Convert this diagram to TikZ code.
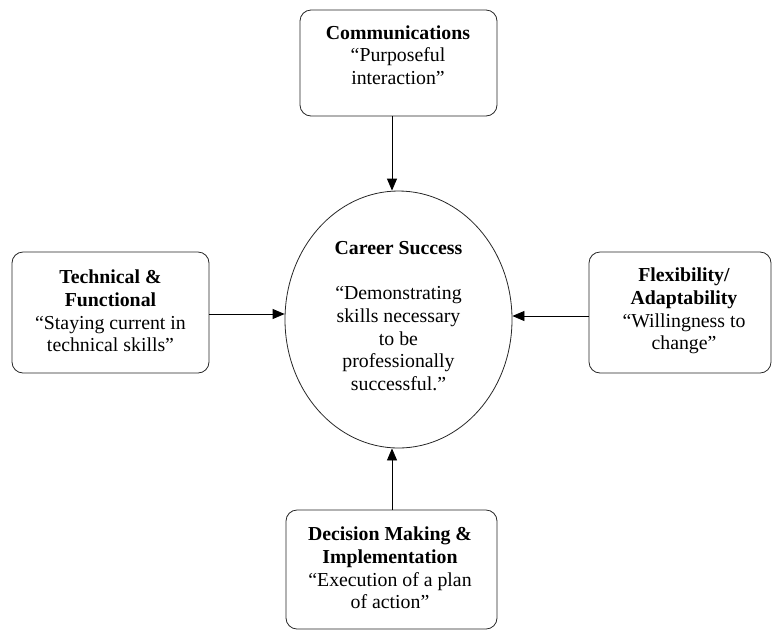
\documentclass[tikz,border=0pt]{standalone}
\usepackage{fontspec}
\setmainfont{Liberation Serif}
\usetikzlibrary{shapes.geometric,arrows.meta}
\begin{document}
\begin{tikzpicture}[x=1pt,y=-1pt,
  box/.style={draw=black!85, rounded corners=11pt, line width=0.8pt, inner sep=0pt},
  oval/.style={draw=black!85, ellipse, line width=0.8pt, inner sep=0pt},
  txt/.style={align=center, font=\fontsize{19.8pt}{22.75pt}\selectfont, inner sep=0pt},
  arr/.style={-{Triangle[length=12pt,width=10pt]}, line width=0.8pt}]
\useasboundingbox (0,0) rectangle (773,630);
% boxes
\node[box, minimum width=197pt, minimum height=106pt] (com) at (398.5,63) {};
\node[box, minimum width=197pt, minimum height=121pt] (tech) at (110.5,312.5) {};
\node[box, minimum width=182pt, minimum height=121pt] (flex) at (680,312.5) {};
\node[box, minimum width=211pt, minimum height=119pt] (dec) at (391.5,569.5) {};
\node[oval, minimum width=227pt, minimum height=257pt] (cs) at (398.5,319.5) {};
% texts
\node[txt] (comt) at (398,55) {\textbf{Communications}\\“Purposeful\\interaction”};
\node[txt] (techt) at (110.5,311) {\textbf{Technical \&}\\\textbf{Functional}\\“Staying current in\\technical skills”};
\node[txt] (flext) at (684,311) {\textbf{Flexibility/}\\\textbf{Adaptability}\\“Willingness to\\change”};
\node[txt] (dect) at (390,568) {\textbf{Decision Making \&}\\\textbf{Implementation}\\“Execution of a plan\\of action”};
\node[txt] (cst) at (398.5,316) {\textbf{Career Success}\\[22.75pt]“Demonstrating\\skills necessary\\to be\\professionally\\successful.”};
% arrows
\draw[arr] ([xshift=-6.5pt]com.south) -- ([xshift=-6.5pt]com.south |- cs.north);
\draw[arr] ([yshift=-1.5pt]tech.east) -- ([yshift=-1.5pt]tech.east -| cs.west);
\draw[arr] ([yshift=-3.5pt]flex.west) -- ([yshift=-3.5pt]flex.west -| cs.east);
\draw[arr] ([xshift=0.5pt]dec.north) -- ([xshift=0.5pt]dec.north |- cs.south);
\end{tikzpicture}
\end{document}
